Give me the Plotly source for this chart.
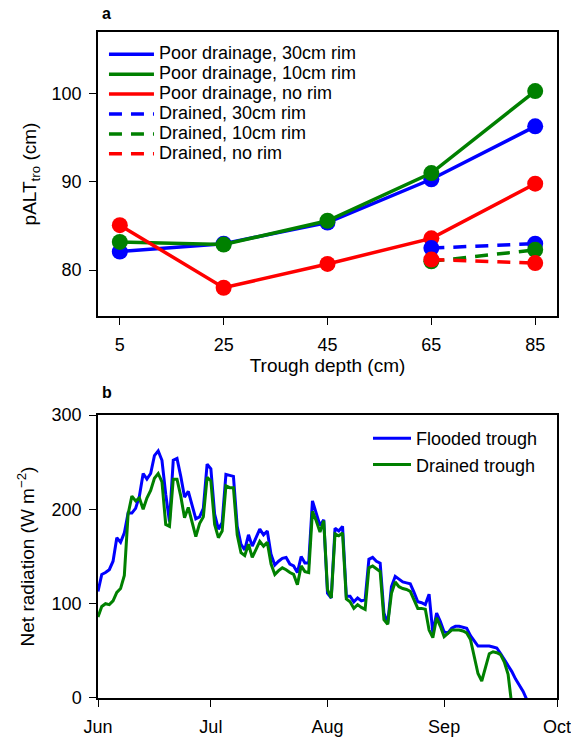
import plotly.graph_objects as go
import pandas as pd

# ---------------- Panel a data ----------------
trough_depth = [5, 25, 45, 65, 85]
poor_30 = [82.1, 83.0, 85.4, 90.3, 96.3]
poor_10 = [83.2, 82.9, 85.6, 91.0, 100.3]
poor_no = [85.1, 78.0, 80.7, 83.6, 89.8]
drained_depth = [65, 85]
drained_30 = [82.5, 83.0]
drained_10 = [81.0, 82.3]
drained_no = [81.2, 80.8]

# ---------------- Panel b data (daily, from 1 June) ----------------
start_date = "2016-06-01"
flooded = [113, 131, 133, 136, 145, 170, 165, 175, 196, 196,
           201, 214, 238, 232, 238, 257, 262, 252, 216, 187,
           252, 254, 235, 213, 219, 203, 190, 192, 201, 248,
           243, 195, 179, 186, 237, 236, 235, 182, 163, 157,
           173, 161, 170, 179, 173, 177, 152, 141, 145, 148,
           149, 142, 140, 133, 150, 143, 143, 209, 196, 183,
           189, 111, 106, 180, 177, 182, 108, 108, 102, 106,
           103, 104, 147, 149, 145, 143, 90, 79, 118, 129,
           126, 123, 122, 121, 112, 102, 101, 99, 110, 69,
           90, 81, 70, 69, 74, 76, 76, 75, 74, 66,
           60, 55, 55, 55, 55, 54, 53, 47, 41, 35,
           28, 20, 13, 7, -2]
drained = [86, 97, 100, 99, 103, 112, 116, 130, 195, 214,
           209, 212, 200, 212, 220, 233, 238, 229, 184, 182,
           232, 232, 214, 191, 202, 186, 171, 185, 192, 234,
           230, 184, 170, 177, 225, 223, 223, 173, 154, 151,
           163, 149, 158, 166, 161, 165, 142, 131, 135, 138,
           136, 133, 131, 120, 140, 134, 133, 198, 188, 176,
           188, 115, 106, 174, 172, 175, 105, 102, 95, 99,
           96, 94, 138, 140, 137, 134, 83, 78, 111, 123,
           118, 116, 115, 113, 104, 95, 95, 94, 72, 64,
           85, 76, 65, 68, 72, 72, 72, 71, 69, 62,
           45, 26, 18, 32, 47, 49, 48, 46, 38, 25,
           -8]

dates_f = pd.date_range(start_date, periods=len(flooded), freq="D")
dates_d = pd.date_range(start_date, periods=len(drained), freq="D")

BLUE, GREEN, RED = "#0000ff", "#008000", "#ff0000"
FONT = "Liberation Sans, Arial, sans-serif"
DASH = "13px,9px"

fig = go.Figure()

def add_a(x, y, name, color, dash):
    # line (shown in legend) then markers on top (hidden from legend)
    fig.add_trace(go.Scatter(
        x=x, y=y, name="<span style='font-size:18px'>" + name + "</span>",
        mode="lines", line=dict(color=color, width=3.5, dash=dash),
        xaxis="x", yaxis="y", legend="legend", hoverinfo="skip"))
    fig.add_trace(go.Scatter(
        x=x, y=y, name=name, mode="markers", showlegend=False,
        marker=dict(color=color, size=16),
        xaxis="x", yaxis="y"))

add_a(trough_depth, poor_30, "Poor drainage, 30cm rim", BLUE, "solid")
add_a(trough_depth, poor_10, "Poor drainage, 10cm rim", GREEN, "solid")
add_a(trough_depth, poor_no, "Poor drainage, no rim", RED, "solid")
add_a(drained_depth, drained_30, "Drained, 30cm rim", BLUE, DASH)
add_a(drained_depth, drained_10, "Drained, 10cm rim", GREEN, DASH)
add_a(drained_depth, drained_no, "Drained, no rim", RED, DASH)

fig.add_trace(go.Scatter(x=dates_f, y=flooded, name="Flooded trough", mode="lines",
                         line=dict(color=BLUE, width=3), xaxis="x2", yaxis="y2",
                         legend="legend2"))
fig.add_trace(go.Scatter(x=dates_d, y=drained, name="Drained trough", mode="lines",
                         line=dict(color=GREEN, width=3), xaxis="x2", yaxis="y2",
                         legend="legend2"))

axis_common = dict(showline=True, linecolor="black", linewidth=1.5, mirror=True,
                   ticks="outside", ticklen=7, tickwidth=1.4, tickcolor="black",
                   showgrid=False, zeroline=False, automargin=False,
                   ticklabeloverflow="allow",
                   tickfont=dict(size=18, color="black", family=FONT))

fig.update_layout(
    width=571, height=738,
    margin=dict(l=98, r=14, t=32, b=40, autoexpand=False),
    paper_bgcolor="white", plot_bgcolor="white",
    font=dict(family=FONT, size=18, color="black"),
    showlegend=True,
    xaxis=dict(axis_common, domain=[0, 1], anchor="y", range=[0.8, 89.2],
               tickvals=trough_depth, ticklabelstandoff=5,
               title=dict(text="Trough depth (cm)", font=dict(size=19), standoff=4)),
    yaxis=dict(axis_common, domain=[0.5736, 1], anchor="x", range=[74.8, 107],
               tickvals=[80, 90, 100], ticklabelstandoff=4,
               title=dict(text="pALT<sub>tro</sub> (cm)", font=dict(size=19), standoff=10)),
    xaxis2=dict(axis_common, domain=[0, 1], anchor="y2",
                range=["2016-06-01", "2016-10-01"], tickformat="%b", dtick="M1",
                tick0="2016-06-01", ticklabelstandoff=5),
    yaxis2=dict(axis_common, domain=[0, 0.4249], anchor="x2", range=[0, 300],
                tickvals=[0, 100, 200, 300], ticklabelstandoff=4,
                title=dict(text="Net radiation (W m<sup>−2</sup>)", font=dict(size=19),
                           standoff=12)),
    legend=dict(x=0.013, y=0.989, xanchor="left", yanchor="top",
                bgcolor="rgba(0,0,0,0)", font=dict(size=13), tracegroupgap=0,
                itemwidth=45),
    legend2=dict(x=0.9695, y=0.4174, xanchor="right", yanchor="top",
                 bgcolor="rgba(0,0,0,0)", font=dict(size=18), tracegroupgap=3,
                 itemwidth=38),
    annotations=[
        dict(text="<b>a</b>", x=0.0196, y=1.0285, xref="paper", yref="paper",
             showarrow=False, xanchor="center", yanchor="middle",
             font=dict(size=16, family=FONT)),
        dict(text="<b>b</b>", x=0.0196, y=0.458, xref="paper", yref="paper",
             showarrow=False, xanchor="center", yanchor="middle",
             font=dict(size=16, family=FONT)),
    ],
)

fig.write_html("out.html",
               config={"displayModeBar": False},
               post_script="document.body.style.margin='0';"
                           "document.body.style.padding='0';"
                           "document.body.style.overflow='hidden';")
